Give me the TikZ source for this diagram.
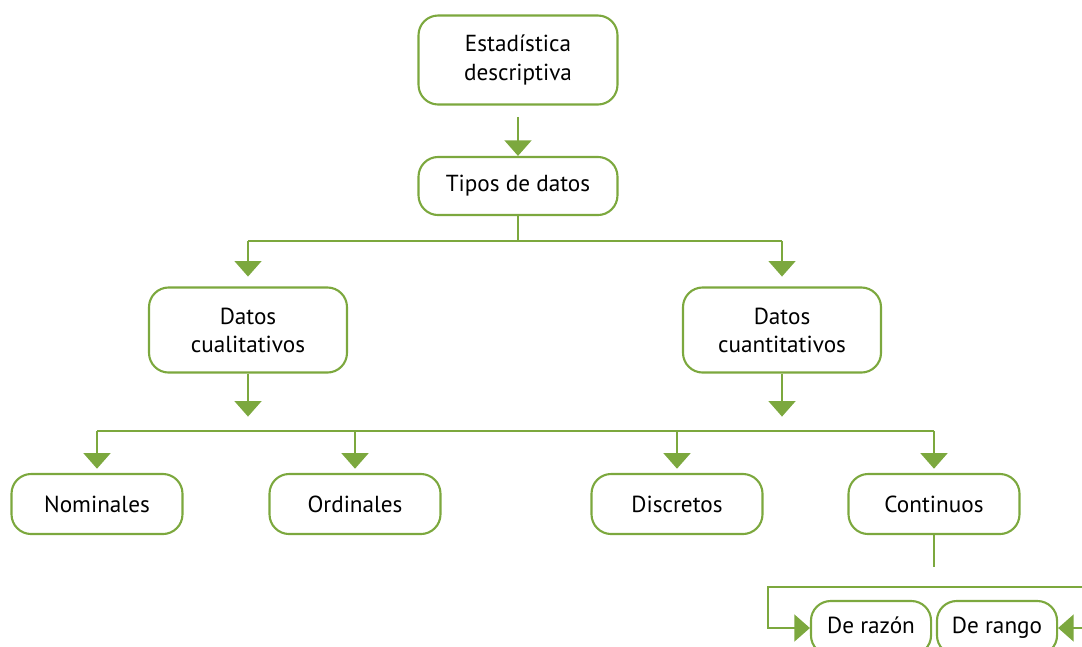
\documentclass[tikz,border=0pt]{standalone}
\usepackage{fontspec}
\setmainfont{PT Sans}
\usetikzlibrary{arrows.meta}
\definecolor{hoja}{RGB}{124,168,62}
\tikzset{
  caja/.style={draw=hoja, line width=1.5pt, rounded corners=14pt, align=center,
    font=\fontsize{16.5}{20}\selectfont, inner sep=0pt},
  liga/.style={draw=hoja, line width=1.5pt},
  flecha/.style={liga, -{Triangle[width=19pt,length=11pt]}}
}
\begin{document}
\begin{tikzpicture}[x=0.025cm, y=-0.025cm]
					\useasboundingbox (0,0) rectangle (1082,646);
					% Boxes
					\node[caja, minimum width=141.5pt, minimum height=63.3pt] (est) at (518,60) {Estadística\\descriptiva};
					\node[caja, minimum width=141.5pt, minimum height=41.3pt] (tipos) at (518,186) {Tipos de datos};
					\node[caja, minimum width=140.8pt, minimum height=60.5pt] (cuali) at (248,330) {Datos\\cualitativos};
					\node[caja, minimum width=140.8pt, minimum height=60.5pt] (cuanti) at (782,330) {Datos\\cuantitativos};
					\node[caja, minimum width=121.6pt, minimum height=42.7pt] (nom) at (97,504) {Nominales};
					\node[caja, minimum width=121.6pt, minimum height=42.7pt] (ord) at (355,504) {Ordinales};
					\node[caja, minimum width=121.6pt, minimum height=42.7pt] (disc) at (677,504) {Discretos};
					\node[caja, minimum width=121.6pt, minimum height=42.7pt] (cont) at (934,504) {Continuos};
					\node[caja, minimum width=85.4pt, minimum height=38.4pt, text height=12pt, text depth=4pt] (razon) at (871,628) {De razón};
					\node[caja, minimum width=85.4pt, minimum height=38.4pt, text height=12pt, text depth=4pt] (rango) at (997,628) {De rango};
					% Links
					\coordinate (bus1) at (0,241);
					\coordinate (bus2) at (0,431);
					\coordinate (bus3) at (1090,587);
					\draw[flecha, shorten <=8pt] (est.south) -- (tipos.north);
					\draw[liga] (tipos.south) -- (tipos.south |- bus1);
					\draw[liga] (cuali.north |- bus1) -- (cuanti.north |- bus1);
					\foreach \n in {cuali, cuanti}
						\draw[flecha, shorten >=7pt] (\n.north |- bus1) -- (\n.north);
					\foreach \n in {cuali, cuanti}
						\draw[flecha] (\n.south) -- ++(0,43);
					\draw[liga] (nom.north |- bus2) -- (cont.north |- bus2);
					\foreach \n in {nom, ord, disc, cont}
						\draw[flecha, shorten >=3pt] (\n.north |- bus2) -- (\n.north);
					\draw[liga] (cont.south) -- ++(0,32);
					\draw[flecha] (bus3) -- (768,587) |- (razon.west);
					\draw[flecha] (bus3) |- (rango.east);
				\end{tikzpicture}
\end{document}
